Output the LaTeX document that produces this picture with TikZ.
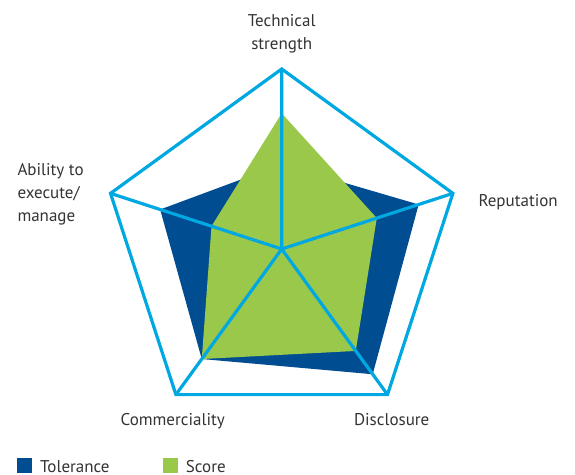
\documentclass[tikz,border=0pt]{standalone}
\usepackage{fontspec}
\setmainfont{PT Sans}
\usetikzlibrary{calc}
\definecolor{axiscyan}{RGB}{0,168,225}
\definecolor{tolblue}{RGB}{0,77,145}
\definecolor{scoregreen}{RGB}{154,200,74}

\begin{document}
\begin{tikzpicture}[x=1pt,y=1pt,
	lbl/.style={font=\fontsize{17}{23.3}\selectfont,text=black!80,inner sep=0pt},
	key/.style={minimum size=15pt,inner sep=0pt,outer sep=0pt}]
	\useasboundingbox (0,0) rectangle (575,474);
	\begin{scope}[shift={(281.7,225)}]
	\coordinate (T) at (90:180); \coordinate (R) at (18:180); \coordinate (D) at (-54:180);
	\coordinate (C) at (-126:180); \coordinate (A) at (162:180);
	\fill[tolblue] (90:84.6) -- (18:144) -- (-54:154.8) -- (-126:136) -- (162:127.8) -- cycle;
	\fill[scoregreen] (90:135.7) -- (18:100) -- (-54:126) -- (-126:136) -- (162:73.8) -- cycle;
	\draw[axiscyan,line width=3.2pt] (T) -- (R) -- (D) -- (C) -- (A) -- cycle;
	\draw[axiscyan,line width=3.2pt] (0,0) -- (T) (0,0) -- (R) (0,0) -- (D) (0,0) -- (C) (0,0) -- (A);
	\end{scope}
	
	\node[lbl,align=center,anchor=north] (tech) at (281.7,460) {Technical\\strength};
	\node[lbl,align=left,anchor=north west] (ability) at (17.3,311) {Ability to\\execute/\\manage};
	\node[lbl,anchor=base west] (reput) at (478.3,267.3) {Reputation};
	\node[lbl,anchor=base] (commerc) at (172.7,49) {Commerciality};
	\node[lbl,anchor=base] (disclo) at (391.7,49) {Disclosure};
	
	\node[key,fill=tolblue] (keytol) at (24.8,8.2) {};
	\node[lbl,anchor=base west] (tol) at (40,1.7) {Tolerance};
	\node[key,fill=scoregreen] (keyscore) at (170.8,8.2) {};
	\node[lbl,anchor=base west] (score) at (185.7,1.7) {Score};
\end{tikzpicture}
\end{document}
